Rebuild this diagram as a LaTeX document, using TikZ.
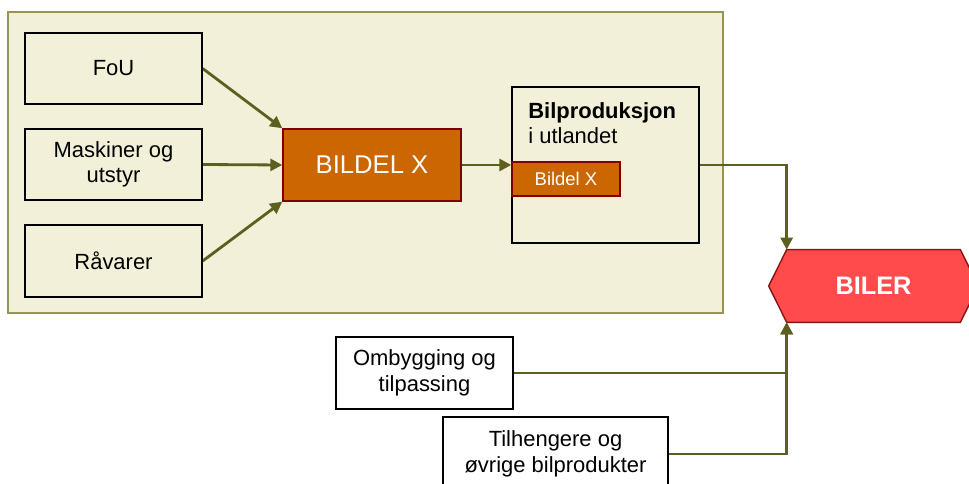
\documentclass[tikz,border=0pt]{standalone}
\usepackage{fontspec}
\setmainfont{Liberation Sans}
\usetikzlibrary{arrows.meta}
\pgfdeclarelayer{bg}
\pgfsetlayers{bg,main}
\definecolor{panel}{RGB}{242,240,217}
\definecolor{panelrim}{RGB}{150,150,80}
\definecolor{olivearrow}{RGB}{94,94,30}
\definecolor{partfill}{RGB}{204,102,0}
\definecolor{partrim}{RGB}{128,0,0}
\definecolor{carfill}{RGB}{255,75,75}
\definecolor{carrim}{RGB}{140,20,20}
\tikzset{
    every node/.style={shape=rectangle, inner sep=0mm, align=center, font=\fontsize{12.5}{14.5}\selectfont}
}
\tikzset{box/.style={draw=black, line width=0.8pt, fill=panel, minimum width=3.54cm, minimum height=1.42cm}}
\tikzset{part/.style={draw=partrim, line width=0.8pt, fill=partfill, text=white}}
\tikzset{flow/.style={draw=olivearrow, line width=1.6pt, -{Triangle[length=2.4mm,width=2.4mm]}}}

\begin{document}
\begin{tikzpicture}
        \useasboundingbox (0cm, 0cm) rectangle (19.38cm, -9.68cm);
        \node (fou) [box] at (2.27cm, -1.37cm) {FoU};
        \node (mask) [box] at (2.27cm, -3.29cm) {Maskiner og\\utstyr};
        \node (raa) [box, minimum height=1.44cm] at (2.27cm, -5.22cm) {Råvarer};
        \node (bildel) [part, minimum width=3.56cm, minimum height=1.44cm, font=\fontsize{14.6}{17}\selectfont] at (7.44cm, -3.30cm) {BILDEL X};
        \node (bp) [box, minimum width=3.74cm, minimum height=3.12cm] at (12.11cm, -3.30cm) {};
        \node (bptxt) [anchor=north west, align=left] at (10.56cm, -2.04cm) {\textbf{Bilproduksjon}\\i utlandet};
        \node (bpdel) [part, minimum width=2.16cm, minimum height=0.68cm, font=\fontsize{10.5}{12}\selectfont] at (11.32cm, -3.58cm) {Bildel X};
        \node (biler) [text=white, minimum width=3.46cm, minimum height=1.44cm, font=\fontsize{14.4}{17}\selectfont\bfseries] at (17.47cm, -5.72cm) {BILER};
        \node (omb) [box, fill=white, minimum height=1.44cm] at (8.49cm, -7.46cm) {Ombygging og\\tilpassing};
        \node (tilh) [box, fill=white, minimum width=4.50cm, minimum height=1.48cm] at (11.11cm, -9.08cm) {Tilhengere og\\øvrige bilprodukter};
        \begin{pgfonlayer}{bg}
                \draw [panelrim, fill=panel, line width=0.6pt] (0.16cm, -0.24cm) rectangle (14.46cm, -6.26cm);
                \draw [carrim, fill=carfill, line width=0.8pt] (biler.north west) -- (biler.north east) -- ([xshift=0.36cm]biler.east) -- (biler.south east) -- (biler.south west) -- ([xshift=-0.36cm]biler.west) -- cycle;
                \draw (fou.east) edge [flow] (bildel.north west);
                \draw (mask.east) edge [flow] (bildel.west);
                \draw (raa.east) edge [flow] (bildel.south west);
                \draw (bildel.east) edge [flow] (bp.west);
                \draw [flow] (bp.east) -| (biler.north west);
                \draw [flow] (omb.east) -| (biler.south west);
                \draw [flow] (tilh.east) -| (biler.south west);
        \end{pgfonlayer}
\end{tikzpicture}
\end{document}
